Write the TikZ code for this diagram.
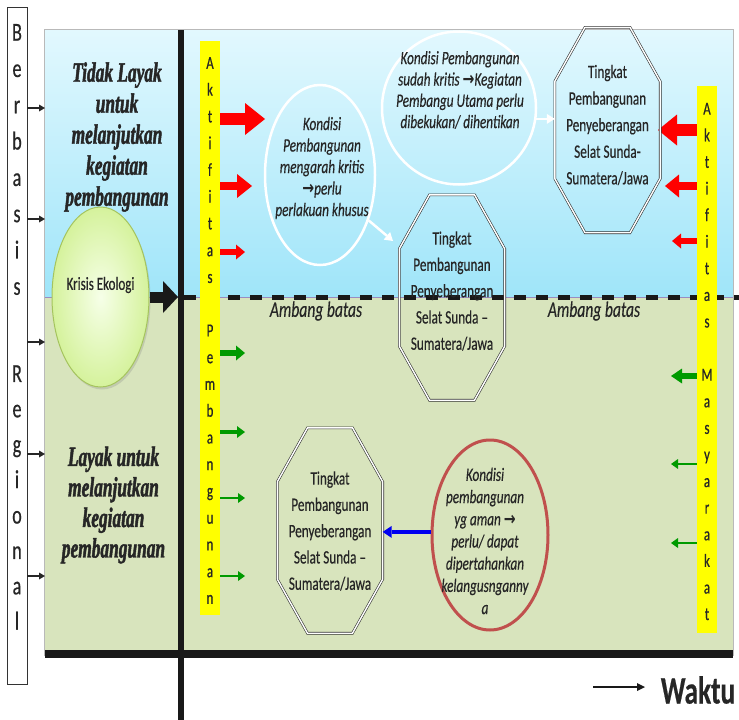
\documentclass[tikz,border=0pt]{standalone}
\usepackage{fontspec}
\setmainfont{Carlito}[FakeStretch=0.7, FakeBold=0.4]
\newfontfamily\posterfont{Liberation Serif}[FakeStretch=0.62, FakeBold=1.6]
\newfontfamily\symfont{DejaVu Sans}[FakeStretch=0.75]
\usetikzlibrary{arrows.meta,shapes.geometric,shadows}
\definecolor{txt}{HTML}{262626}
\definecolor{skytop}{HTML}{E2F8FE}
\definecolor{skybot}{HTML}{9FE5F9}
\definecolor{olive}{HTML}{D8E4BD}
\definecolor{barY}{HTML}{FFFF00}
\definecolor{arrR}{HTML}{FF0000}
\definecolor{arrG}{HTML}{009A00}
\definecolor{arrB}{HTML}{0000F0}
\definecolor{redring}{HTML}{C0504D}
\definecolor{krisA}{HTML}{F6FFE8}
\definecolor{krisB}{HTML}{D5F29C}
\definecolor{krisline}{HTML}{A5C45E}
\definecolor{divider}{HTML}{9A8CC0}
\newcommand\rarr{{\symfont\bfseries →}}
\newcommand\octoframe[1]{%
  \draw[octline] ([xshift=-22.5pt]#1.north) -- ([xshift=22.5pt]#1.north)
    -- ([yshift=-54pt]#1.north east) -- ([yshift=54pt]#1.south east)
    -- ([xshift=22.5pt]#1.south) -- ([xshift=-22.5pt]#1.south)
    -- ([yshift=54pt]#1.south west) -- ([yshift=-54pt]#1.north west) -- cycle;}
\tikzset{
  blk/.style n args={3}{line width=#1, -{Triangle[length=#2, width=#3, line width=0pt]}},
  octline/.style={draw=black!80, line width=0.6pt, double=white, double distance=1.4pt},
  octbox/.style={rectangle, inner sep=0pt, minimum width=105pt, minimum height=205pt},
  octtxt/.style={align=center, inner sep=0pt, text=txt, font=\fontsize{18.9}{26.6}\selectfont},
  ovtxt/.style={align=center, inner sep=0pt, text=txt, font=\fontsize{18.9}{21.5}\selectfont\itshape},
  postertxt/.style={align=center, inner sep=0pt, text=txt, font=\posterfont\bfseries\itshape\fontsize{28}{31}\selectfont},
  lboxtxt/.style={align=center, inner sep=0pt, text=txt, font=\fontsize{26}{36.3}\selectfont},
  bartxt/.style={align=center, inner sep=0pt, text=txt, font=\fontsize{18.5}{26.7}\selectfont},
  ambang/.style={inner sep=0pt, text=txt, font=\fontsize{22.3}{24}\selectfont\itshape},
  whitering/.style={ellipse, draw=white, line width=2.5pt, inner sep=0pt},
}
\begin{document}
\begin{tikzpicture}[x=1pt,y=-1pt]
\useasboundingbox (0,0) rectangle (739,720);
% panel backgrounds
\node[rectangle, inner sep=0pt, minimum width=688pt, minimum height=267pt, top color=skytop, bottom color=skybot] (sky) at (389,163.5) {};
\node[rectangle, inner sep=0pt, minimum width=688pt, minimum height=358pt, fill=olive] (ground) at (389,476) {};
\draw[gray!55, line width=0.8pt] (sky.north west) rectangle (ground.south east);
\draw[divider, line width=0.8pt] (sky.south west) -- (sky.south east);
% left box
\node[draw=black!80, line width=0.8pt, minimum width=20pt, minimum height=677pt, inner sep=0pt] (lbox) at (17,345.5) {};
\node[lboxtxt] (berbasis) at (17,159.5) {B\\e\\r\\b\\a\\s\\i\\s};
\node[lboxtxt, font=\fontsize{26}{35.4}\selectfont] (regional) at (17,497.5) {R\\e\\g\\i\\o\\n\\a\\l};
\foreach \n/\y in {1/108,2/219,3/342,4/454,5/576}{\coordinate (b\n) at (45,\y);}
\foreach \n in {1,...,5}{\draw[blk={1.2pt}{6pt}{7pt}, black!85] (lbox.east |- b\n) -- (b\n);}
% axes
\coordinate (ax0) at (181,30);
\coordinate (ax1) at (181,720);
\coordinate (dl0) at (184,297);
\coordinate (dl1) at (739,297);
\coordinate (bb0) at (45,654);
\coordinate (bb1) at (733,654);
\draw[black!90, line width=5.5pt] (ax0) -- (ax1);
\draw[black!90, line width=5pt, dash pattern=on 12pt off 10pt] (dl0) -- (dl1);
\draw[black!90, line width=8pt] (bb0) -- (bb1);
% side texts
\node[postertxt] (tidak) at (117,137) {Tidak Layak\\untuk\\melanjutkan\\kegiatan\\pembangunan};
\node[postertxt, font=\posterfont\bfseries\itshape\fontsize{28}{30.5}\selectfont] (layak) at (113.5,505) {Layak untuk\\melanjutkan\\kegiatan\\pembangunan};
% krisis ekologi
\node[ellipse, draw=krisline, line width=1pt, inner color=krisA, outer color=krisB, minimum width=97pt, minimum height=180pt, inner sep=0pt, drop shadow={opacity=0.25, shadow xshift=1.5pt, shadow yshift=-2.5pt}] (kr) at (100.5,297) {};
\node[inner sep=0pt, text=txt, font=\fontsize{18.6}{20}\selectfont] (krt) at (100.5,285) {Krisis Ekologi};
\coordinate (kt) at (178,297);
\draw[blk={11pt}{15pt}{32pt}, black!90] (kr.east) -- (kt);
% bars
\node[fill=barY, minimum width=20pt, minimum height=574pt, inner sep=0pt] (barL) at (210,328) {};
\node[fill=barY, minimum width=20pt, minimum height=547pt, inner sep=0pt] (barR) at (707,359.5) {};
\node[bartxt, font=\fontsize{18.5}{26.75}\selectfont] (barLt) at (210,330.5) {A\\k\\t\\i\\f\\i\\t\\a\\s\\[26.75pt]P\\e\\m\\b\\a\\n\\g\\u\\n\\a\\n};
\node[bartxt, font=\fontsize{18.5}{26.6}\selectfont] (barRt) at (707,361.5) {A\\k\\t\\i\\f\\i\\t\\a\\s\\[26.6pt]M\\a\\s\\y\\a\\r\\a\\k\\a\\t};
% arrows from left bar
\coordinate (la1) at (265,119);
\coordinate (la2) at (252,186);
\coordinate (la3) at (245,252);
\coordinate (lg1) at (245,353);
\coordinate (lg2) at (245,432);
\coordinate (lg3) at (245,498);
\coordinate (lg4) at (245,576);
\draw[blk={12pt}{20pt}{32pt}, arrR] (barL.east |- la1) -- (la1);
\draw[blk={8pt}{15pt}{24pt}, arrR] (barL.east |- la2) -- (la2);
\draw[blk={6pt}{9pt}{15pt}, arrR] (barL.east |- la3) -- (la3);
\draw[blk={6pt}{9pt}{15pt}, arrG] (barL.east |- lg1) -- (lg1);
\draw[blk={4pt}{8pt}{12pt}, arrG] (barL.east |- lg2) -- (lg2);
\draw[blk={2pt}{7pt}{10pt}, arrG] (barL.east |- lg3) -- (lg3);
\draw[blk={2pt}{7pt}{10pt}, arrG] (barL.east |- lg4) -- (lg4);
% arrows from right bar
\coordinate (ra1) at (658,130);
\coordinate (ra2) at (665,186);
\coordinate (ra3) at (672,241);
\coordinate (rg1) at (671,376);
\coordinate (rg2) at (671,464);
\coordinate (rg3) at (671,543);
\draw[blk={12pt}{19pt}{31pt}, arrR] (barR.west |- ra1) -- (ra1);
\draw[blk={8pt}{14pt}{23pt}, arrR] (barR.west |- ra2) -- (ra2);
\draw[blk={6pt}{9pt}{15pt}, arrR] (barR.west |- ra3) -- (ra3);
\draw[blk={6pt}{11pt}{15pt}, arrG] (barR.west |- rg1) -- (rg1);
\draw[blk={2pt}{7pt}{10pt}, arrG] (barR.west |- rg2) -- (rg2);
\draw[blk={2pt}{7pt}{10pt}, arrG] (barR.west |- rg3) -- (rg3);
% white ellipses
\node[whitering, minimum width=110pt, minimum height=180pt] (e1) at (320,175) {};
\node[ovtxt] (e1t) at (322,168) {Kondisi\\Pembangunan\\mengarah kritis\\\rarr perlu\\perlakuan khusus};
\node[whitering, minimum width=154pt, minimum height=153pt] (c2) at (459,108) {};
\node[ovtxt, font=\fontsize{18.9}{21.3}\selectfont\itshape] (c2t) at (460,90) {Kondisi Pembangunan\\sudah kritis \rarr Kegiatan\\Pembangu Utama perlu\\dibekukan/ dihentikan};
% octagons
\node[octbox] (o1) at (607.5,130) {};
\node[octbox] (o2) at (452,297.5) {};
\node[octbox] (o3) at (330,530.5) {};
\octoframe{o1}
\octoframe{o2}
\octoframe{o3}
\node[octtxt] (o1t) at (607.5,125) {Tingkat\\Pembangunan\\Penyeberangan\\Selat Sunda-\\Sumatera/Jawa};
\node[octtxt, font=\fontsize{18.9}{26.3}\selectfont] (o2t) at (452,291) {Tingkat\\Pembangunan\\Penyeberangan\\Selat Sunda –\\Sumatera/Jawa};
\node[octtxt, font=\fontsize{18.9}{26.3}\selectfont] (o3t) at (330,531) {Tingkat\\Pembangunan\\Penyeberangan\\Selat Sunda –\\Sumatera/Jawa};
% red ellipse
\node[ellipse, draw=redring, line width=3pt, minimum width=116pt, minimum height=190pt, inner sep=0pt] (r1) at (490,535) {};
\node[ovtxt, font=\fontsize{18.9}{22.2}\selectfont\itshape] (r1t) at (485,541) {Kondisi\\pembangunan\\yg aman~\rarr\\perlu/ dapat\\dipertahankan\\kelangusnganny\\a};
% connectors
\coordinate (wa1) at (393,241);
\draw[blk={2.5pt}{8pt}{10pt}, white] (e1.-43) -- (wa1);
\draw[blk={2.5pt}{8pt}{10pt}, white] (c2.-8) -- (c2.-8 -| o1.west);
\draw[blk={3.5pt}{9pt}{12pt}, arrB] (r1.177) -- (r1.177 -| o3.east);
% ambang batas
\node[ambang] (am1) at (316,311) {Ambang batas};
\node[ambang] (am2) at (594,311) {Ambang batas};
% waktu
\node[inner sep=0pt, text=txt, font=\fontsize{39}{42}\selectfont\bfseries] (waktu) at (698,690) {Waktu};
\coordinate (wk0) at (593,687);
\coordinate (wk1) at (645,687);
\draw[blk={1.5pt}{8pt}{8pt}, black!90] (wk0) -- (wk1);
\end{tikzpicture}
\end{document}
